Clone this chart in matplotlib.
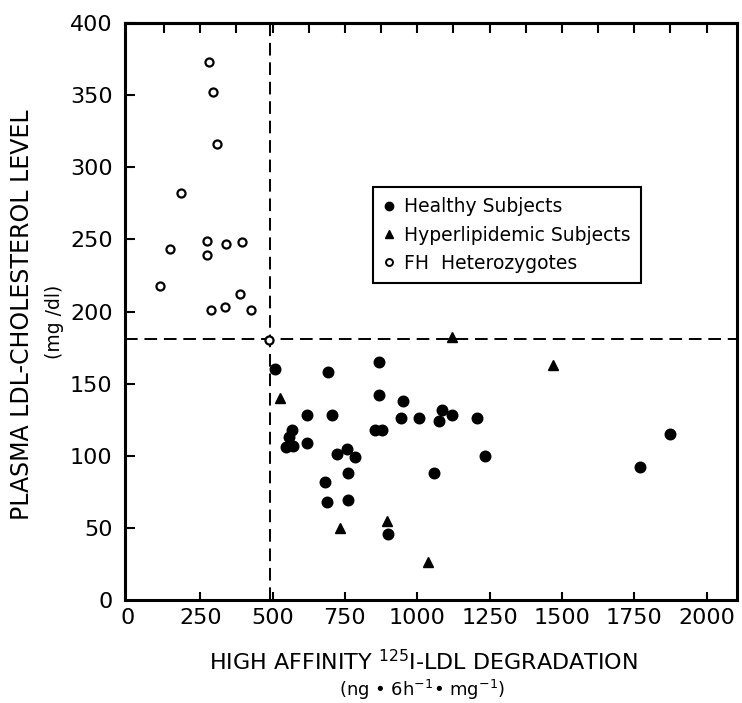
import numpy as np
import matplotlib
matplotlib.use("Agg")
import matplotlib.pyplot as plt
from matplotlib.lines import Line2D

# data
healthy_x = [509, 693, 869, 867, 950, 618, 707, 944, 1007, 1085, 1075, 1119, 1205,
             568, 558, 546, 572, 618, 855, 878, 758, 721, 784, 1234, 762, 1059,
             682, 688, 762, 899, 1770, 1875]
healthy_y = [160, 158, 165, 142, 138, 128, 128, 126, 126, 132, 124, 128, 126,
             118, 113, 106, 107, 109, 118, 118, 105, 101, 99, 100, 88, 88,
             82, 68, 69, 46, 92, 115]

hyper_x = [524, 1119, 733, 897, 1036, 1470]
hyper_y = [140, 182, 50, 55, 26, 163]

fh_x = [280, 294, 309, 184, 275, 338, 396, 144, 275, 110, 388, 287, 334, 426, 486]
fh_y = [373, 352, 316, 282, 249, 247, 248, 243, 239, 218, 212, 201, 203, 201, 180]

cut_x = 490
cut_y = 181

labels = ["Healthy Subjects", "Hyperlipidemic Subjects", "FH  Heterozygotes"]
xticks = [0, 250, 500, 750, 1000, 1250, 1500, 1750, 2000]
yticks = [0, 50, 100, 150, 200, 250, 300, 350, 400]

plt.rcParams["font.family"] = "DejaVu Sans"
plt.rcParams["mathtext.fontset"] = "dejavusans"

fig = plt.figure(figsize=(7.42, 7.03), dpi=100)
ax = fig.add_axes([125 / 742, 1 - 600 / 703, (737 - 125) / 742, (600 - 23) / 703])

# cut-off lines
ax.axvline(cut_x, color="black", lw=1.4, dashes=(6.5, 3.5))
ax.axhline(cut_y, color="black", lw=1.4, dashes=(6.5, 3.5))

ax.plot(healthy_x, healthy_y, "o", color="black", ms=7.6, ls="none", zorder=3)
ax.plot(hyper_x, hyper_y, "^", color="black", ms=7.5, ls="none", zorder=3)
ax.plot(fh_x, fh_y, "o", mfc="white", mec="black", mew=1.6, ms=5.8, ls="none", zorder=3)

ax.set_xlim(-10, 2105)
ax.set_ylim(0, 400)
ax.set_xticks(xticks)
ax.set_yticks(yticks)
ax.tick_params(axis="x", direction="in", length=6, width=1.5, labelsize=16, pad=6)
ax.tick_params(axis="y", direction="in", length=7, width=1.5, labelsize=16, pad=9)
ax.xaxis.get_major_ticks()[0].tick1line.set_visible(False)
ax.yaxis.get_major_ticks()[0].tick1line.set_visible(False)

for s in ax.spines.values():
    s.set_linewidth(2.2)

top = ax.secondary_xaxis("top")
top.set_xticks(np.arange(125, 2001, 125))
top.tick_params(direction="in", length=7, width=1.5, labeltop=False)
top.spines["top"].set_linewidth(2.2)

handles = [
    Line2D([], [], marker="o", color="black", ls="none", ms=6),
    Line2D([], [], marker="^", color="black", ls="none", ms=6),
    Line2D([], [], marker="o", mfc="white", mec="black", mew=1.4, ls="none", ms=5),
]
leg = ax.legend(handles, labels, loc="upper left", bbox_to_anchor=(0.405, 0.716),
                borderaxespad=0, fontsize=13.5, frameon=True, fancybox=False,
                edgecolor="black", framealpha=1, handlelength=0.6,
                handletextpad=0.5, labelspacing=0.5, borderpad=0.55)
leg.get_frame().set_linewidth(1.5)

fig.text(22 / 742, 1 - 315 / 703, "PLASMA LDL-CHOLESTEROL LEVEL", rotation=90,
         ha="center", va="center", fontsize=17)
fig.text(54 / 742, 1 - 322 / 703, "(mg /dl)", rotation=90,
         ha="center", va="center", fontsize=13.5)
fig.text(423 / 742, 1 - 662 / 703, r"HIGH AFFINITY $^{125}$I-LDL DEGRADATION",
         ha="center", va="center", fontsize=16)
fig.text(422 / 742, 1 - 690 / 703, r"(ng • 6h$^{-1}$• mg$^{-1}$)",
         ha="center", va="center", fontsize=13)

fig.savefig("out.png", dpi=100)
